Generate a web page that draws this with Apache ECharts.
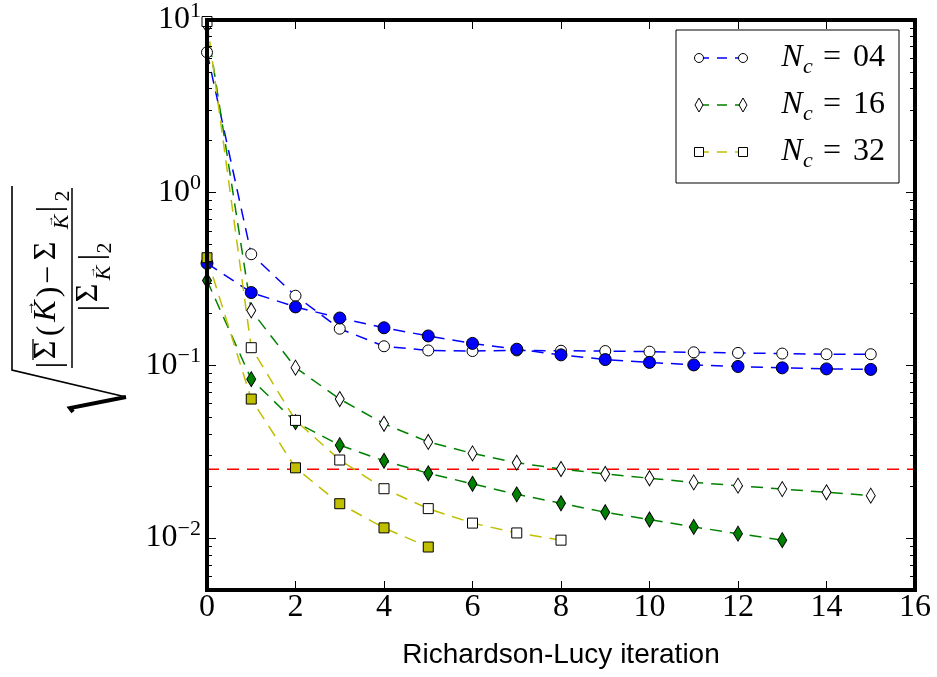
<!DOCTYPE html>
<html>
<head>
<meta charset="utf-8">
<script src="https://cdn.jsdelivr.net/npm/echarts@6/dist/echarts.min.js"></script>
<style>
  html, body { margin: 0; padding: 0; background: #fff; }
  #chart { width: 937px; height: 677px; }
</style>
</head>
<body>
<div id="chart"></div>
<script>
// Relative error per Richardson-Lucy iteration (open = first run, filled = second run)
const nc04Open   = [6.5, 0.44, 0.253, 0.163, 0.129, 0.122, 0.121, 0.122, 0.1215, 0.121, 0.120, 0.119, 0.118, 0.117, 0.116, 0.116];
const nc04Filled = [0.39, 0.264, 0.218, 0.188, 0.165, 0.148, 0.134, 0.124, 0.115, 0.108, 0.104, 0.1006, 0.0985, 0.0967, 0.0954, 0.0947];
const nc16Open   = [9.3, 0.208, 0.097, 0.0638, 0.0459, 0.036, 0.0309, 0.0273, 0.0251, 0.0235, 0.0222, 0.021, 0.0201, 0.0192, 0.0184, 0.0176];
const nc16Filled = [0.31, 0.0832, 0.0469, 0.0345, 0.028, 0.0237, 0.0206, 0.0179, 0.0159, 0.0141, 0.0128, 0.0116, 0.0106, 0.00972];
const nc32Open   = [9.8, 0.1265, 0.048, 0.0283, 0.0193, 0.0148, 0.0122, 0.0107, 0.00972];
const nc32Filled = [0.42, 0.0638, 0.0255, 0.0158, 0.01145, 0.00887];
const threshold  = 0.025;

const legendLabels = ['04', '16', '32'];
const xTicks = [0, 16, 2];          // min, max, step
const yRange = [0.005, 10];

const SERIF = '"Liberation Serif", "DejaVu Serif", serif';
const BLUE = '#0000ff', GREEN = '#008000', YELLOW = '#bfbf00', RED = '#ff0000';
const DASH = [12, 8];

function pairs(arr) { return arr.map((v, i) => [i, v]); }

function lineSeries(name, values, color, symbol, size, fill) {
  return {
    name: name, type: 'line', data: pairs(values),
    symbol: symbol, symbolSize: size,
    itemStyle: { color: fill, borderColor: '#000', borderWidth: 1 },
    lineStyle: { color: color, width: 1.5, type: DASH },
    emphasis: { disabled: true },
    z: 3
  };
}

const logMin = Math.log10(yRange[0]), logMax = Math.log10(yRange[1]);
const majorLog = [], minorLog = [];
for (let e = -3; e <= 1; e++) {
  if (e >= logMin && e <= logMax) majorLog.push(e);
  for (let k = 2; k <= 9; k++) {
    const v = e + Math.log10(k);
    if (v > logMin && v < logMax) minorLog.push(v);
  }
}

const frameLine = { show: true, onZero: false, lineStyle: { color: '#000', width: 4, cap: 'square' } };
const noLine = { show: false, onZero: false };

function tickAxis(position, values, len, withLine) {
  return {
    type: 'value', position: position, min: logMin, max: logMax, z: 10,
    axisLine: withLine ? frameLine : noLine,
    axisTick: { show: true, inside: true, length: len, customValues: values, lineStyle: { color: '#000', width: 1 } },
    axisLabel: { show: false }, splitLine: { show: false }
  };
}

// Y-axis title: sqrt( |Σ̄(K)−Σ_K|_2 / |Σ_K|_2 ), drawn rotated
function txt(s, x, y, size, italic) {
  return {
    type: 'text', x: x, y: y,
    style: {
      text: s, fill: '#000',
      font: (italic ? 'italic ' : '') + size + 'px ' + SERIF,
      align: 'center', verticalAlign: 'middle', textAlign: 'center', textVerticalAlign: 'middle'
    }
  };
}
function seg(x1, y1, x2, y2, w) {
  return { type: 'line', shape: { x1: x1, y1: y1, x2: x2, y2: y2 }, style: { stroke: '#000', lineWidth: w } };
}

const yTitle = {
  type: 'group', x: 72, y: 278, rotation: Math.PI / 2,
  children: [
    txt('|', -87, -21, 34),
    txt('\u03A3', -72, -25, 32),
    seg(-82, -39, -61, -39, 1.3),
    txt('(', -53, -22, 32),
    txt('K', -33, -25, 32, true),
    txt('\u2192', -30, -42, 16),
    txt(')', -14, -22, 32),
    txt('\u2212', 3, -22, 32),
    txt('\u03A3', 27, -25, 32),
    txt('K', 56, -10, 22, true),
    txt('\u2192', 57, -22, 12),
    txt('|', 69, -21, 34),
    txt('2', 82, -9, 22),
    seg(-90, 0, 90, 0, 1.5),
    txt('|', -30, 21, 34),
    txt('\u03A3', -15, 17, 32),
    txt('K', 5, 32, 22, true),
    txt('\u2192', 6, 20, 12),
    txt('|', 21, 21, 34),
    txt('2', 30, 33, 22)
  ]
};
const radical = [
  { type: 'polyline', shape: { points: [[126, 397], [12, 370], [12, 186]] }, style: { stroke: '#000', lineWidth: 1.6, fill: null } },
  { type: 'polyline', shape: { points: [[126, 397], [70, 408], [73, 412]] }, style: { stroke: '#000', lineWidth: 4, fill: null, lineJoin: 'miter' } }
];

// Legend box with two markers joined by a dashed line per entry
function legendEntry(i, color, marker) {
  const cy = 58 + i * 47, x1 = 699, x2 = 743;
  const els = [{ type: 'line', shape: { x1: x1, y1: cy, x2: x2, y2: cy }, style: { stroke: color, lineWidth: 1.5, lineDash: [10, 8] } }];
  [x1, x2].forEach(cx => {
    const st = { fill: '#fff', stroke: '#000', lineWidth: 1 };
    if (marker === 'circle') els.push({ type: 'circle', shape: { cx: cx, cy: cy, r: 4.5 }, style: st });
    else if (marker === 'diamond') els.push({ type: 'polygon', shape: { points: [[cx, cy - 7], [cx + 4, cy], [cx, cy + 7], [cx - 4, cy]] }, style: st });
    else els.push({ type: 'rect', shape: { x: cx - 4.5, y: cy - 4.5, width: 9, height: 9 }, style: st });
  });
  els.push(txt('N', 792, cy, 32, true));
  els.push(txt('c', 808, cy + 9, 22, true));
  els.push(txt('=', 832, cy, 32));
  els.push(txt(legendLabels[i], 869, cy, 32));
  return els;
}
const legendEls = [{ type: 'rect', shape: { x: 676, y: 30, width: 223, height: 153 }, style: { fill: '#fff', stroke: '#000', lineWidth: 1 }, z: 20 }]
  .concat(legendEntry(0, BLUE, 'circle'), legendEntry(1, GREEN, 'diamond'), legendEntry(2, YELLOW, 'square'));
legendEls.forEach((el, i) => { if (i > 0) el.z = 21; });

const option = {
  animation: false,
  backgroundColor: '#fff',
  grid: { left: 207, right: 22, top: 15, bottom: 87, show: false },
  xAxis: [
    {
      type: 'value', position: 'bottom', min: xTicks[0], max: xTicks[1], interval: xTicks[2], z: 10,
      axisLine: frameLine,
      axisTick: { inside: true, length: 9, lineStyle: { color: '#000', width: 1 } },
      axisLabel: { fontFamily: SERIF, fontSize: 32, color: '#000', margin: 2 },
      splitLine: { show: false },
      name: 'Richardson-Lucy iteration', nameLocation: 'middle', nameGap: 51,
      nameTextStyle: { fontFamily: '"Liberation Sans", Arial, sans-serif', fontSize: 28, color: '#000' }
    },
    {
      type: 'value', position: 'top', min: xTicks[0], max: xTicks[1], interval: xTicks[2], z: 10,
      axisLine: frameLine,
      axisTick: { inside: true, length: 9, lineStyle: { color: '#000', width: 1 } },
      axisLabel: { show: false }, splitLine: { show: false }
    }
  ],
  yAxis: [
    {
      type: 'log', logBase: 10, position: 'left', min: yRange[0], max: yRange[1], z: 10,
      axisLine: frameLine,
      axisTick: { inside: true, length: 9, lineStyle: { color: '#000', width: 1 } },
      axisLabel: {
        margin: 6,
        formatter: function (v) {
          const l = Math.log10(v), e = Math.round(l);
          if (Math.abs(l - e) > 1e-6) return '';
          return '{b|10}{s|' + (e < 0 ? '\u2212' + (-e) : e) + '}';
        },
        rich: {
          b: { fontFamily: SERIF, fontSize: 32, color: '#000', lineHeight: 40, verticalAlign: 'middle' },
          s: { fontFamily: SERIF, fontSize: 22, color: '#000', lineHeight: 16, verticalAlign: 'top' }
        }
      },
      splitLine: { show: false }
    },
    tickAxis('left', minorLog, 5, false),
    tickAxis('right', majorLog, 9, true),
    tickAxis('right', minorLog, 5, false)
  ],
  series: [
    lineSeries('Nc=04', nc04Open, BLUE, 'circle', 11, '#ffffff'),
    lineSeries('Nc=04 (2)', nc04Filled, BLUE, 'circle', 12, BLUE),
    lineSeries('Nc=16', nc16Open, GREEN, 'diamond', [9, 15], '#ffffff'),
    lineSeries('Nc=16 (2)', nc16Filled, GREEN, 'diamond', [9, 15], GREEN),
    lineSeries('Nc=32', nc32Open, YELLOW, 'rect', 10, '#ffffff'),
    lineSeries('Nc=32 (2)', nc32Filled, YELLOW, 'rect', 10, YELLOW),
    {
      name: 'threshold', type: 'line', symbol: 'none', silent: true,
      data: [[xTicks[0], threshold], [xTicks[1], threshold]],
      lineStyle: { color: RED, width: 1.5, type: DASH },
      z: 2
    }
  ],
  graphic: { elements: [yTitle].concat(radical, legendEls) }
};

const chart = echarts.init(document.getElementById('chart'), null, { renderer: 'canvas' });
chart.setOption(option);
</script>
</body>
</html>
